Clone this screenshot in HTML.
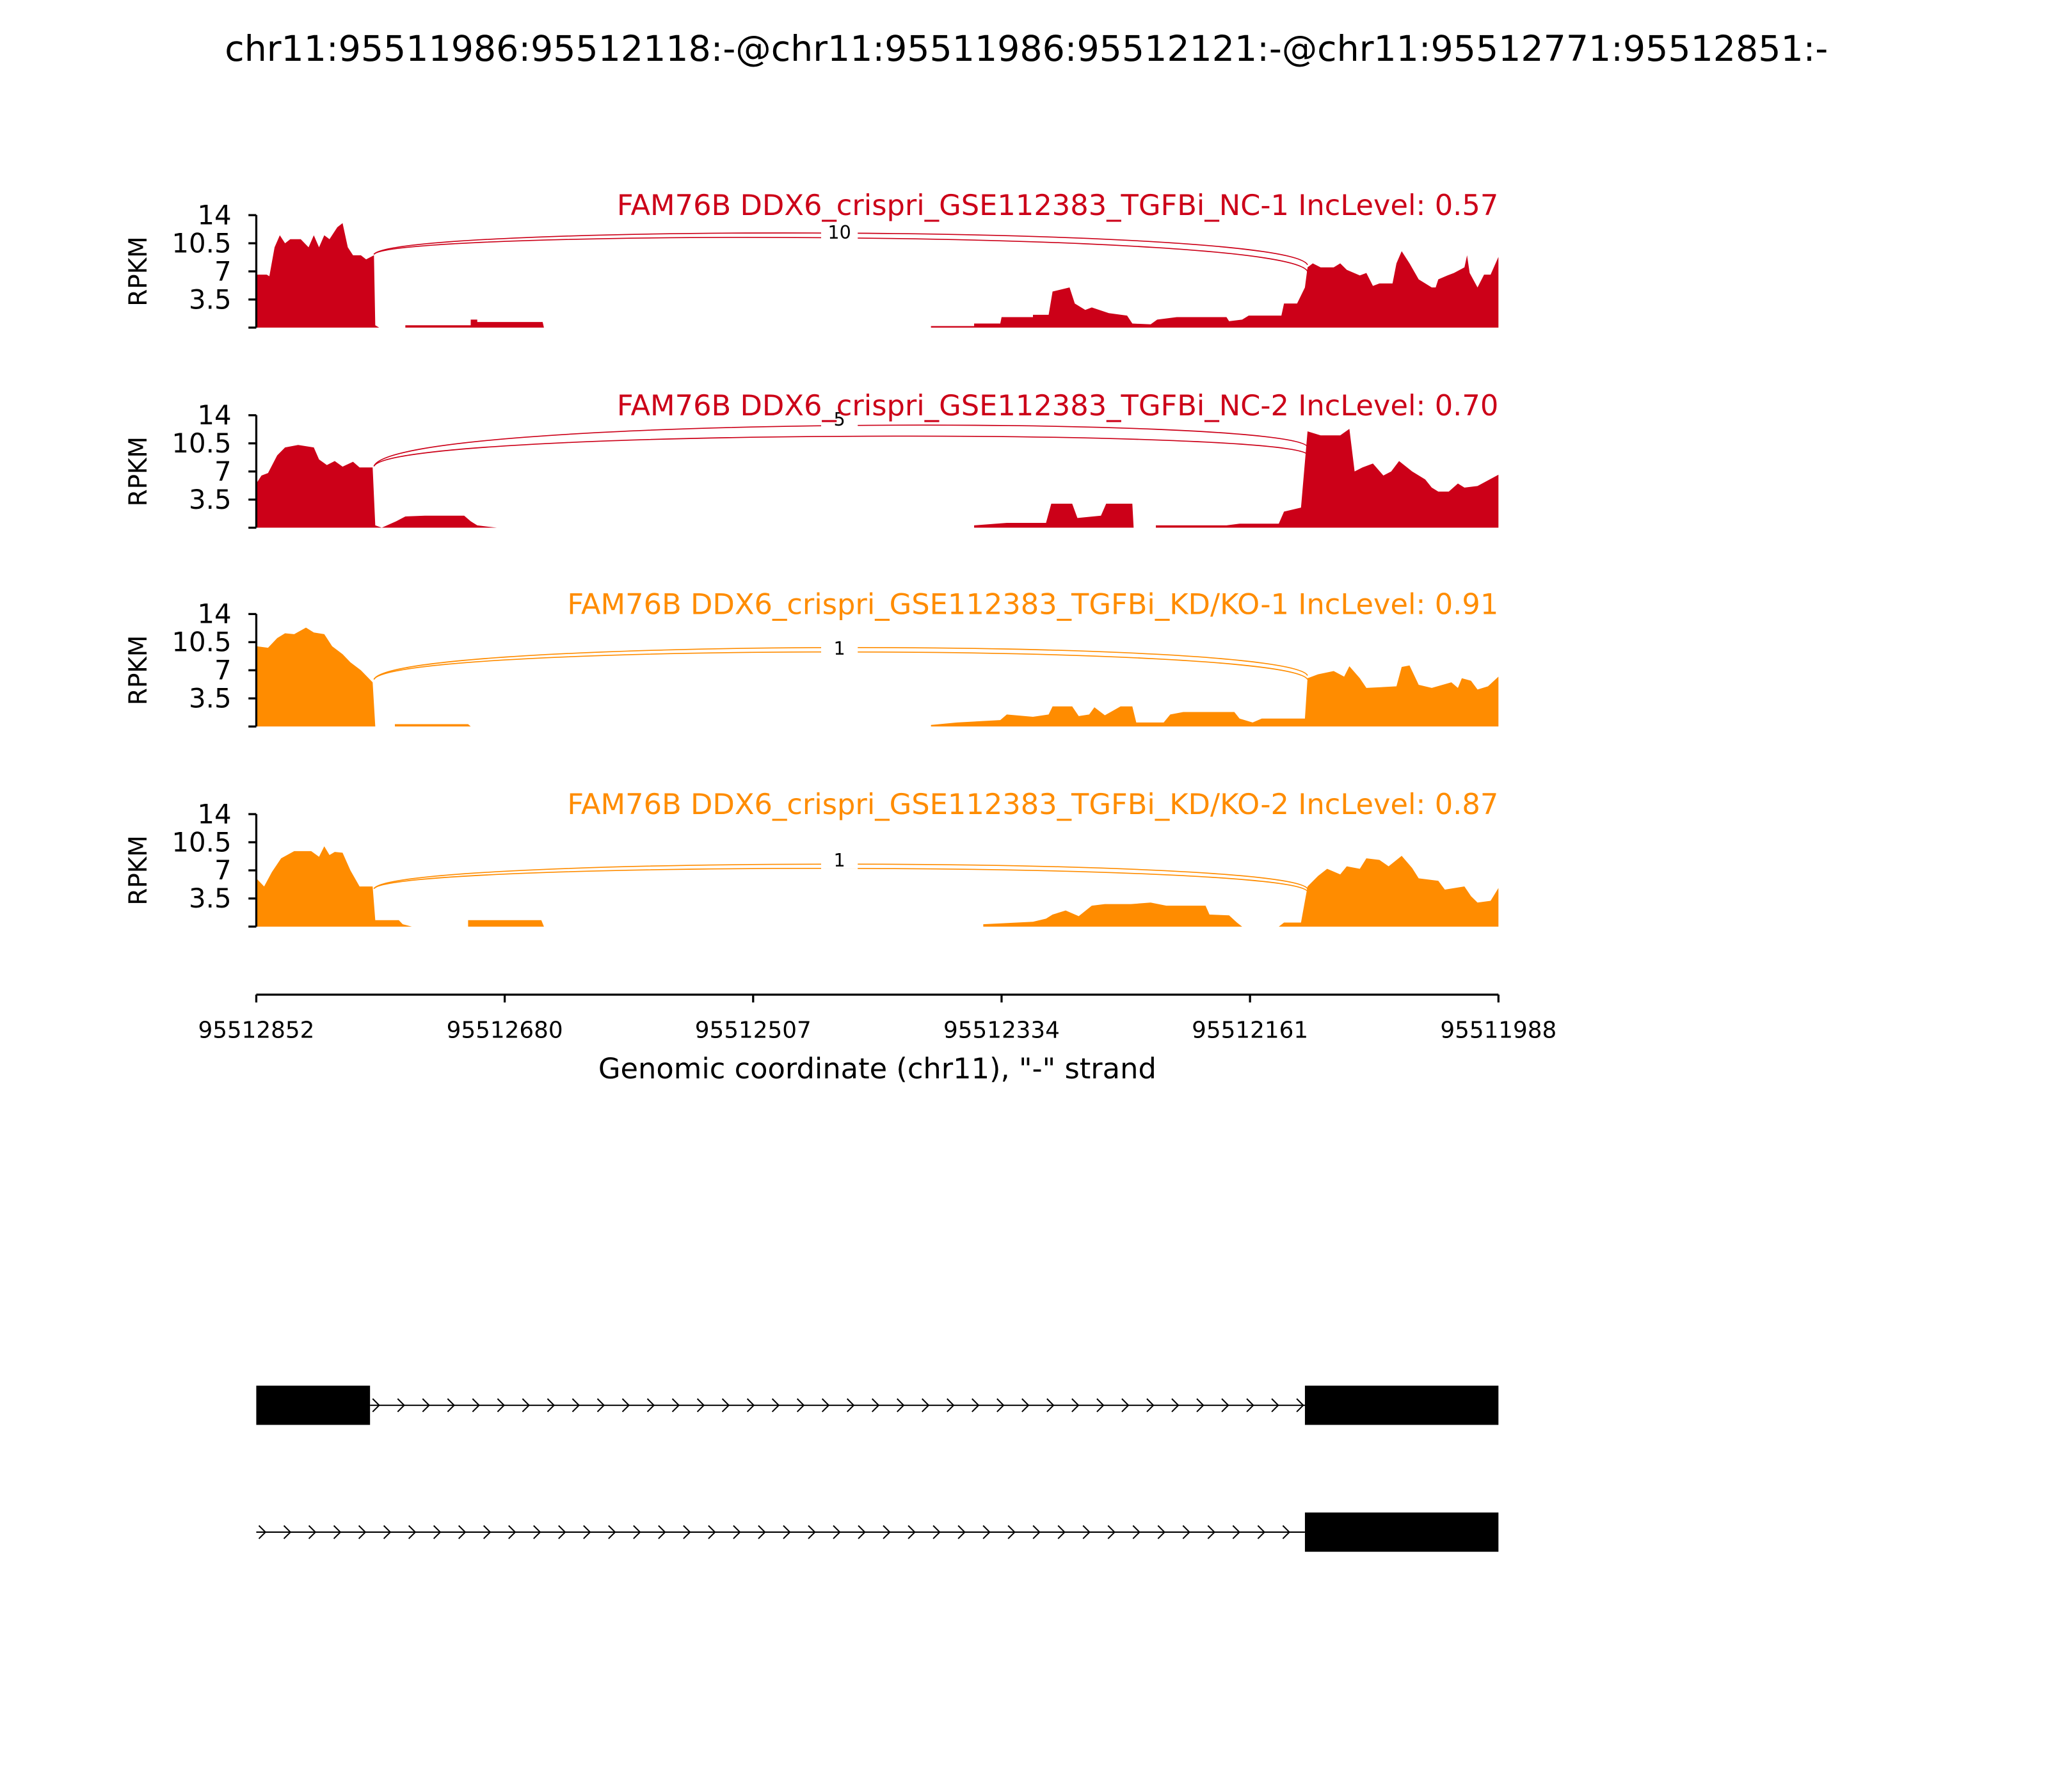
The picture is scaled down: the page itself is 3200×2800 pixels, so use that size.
<!DOCTYPE html>
<html><head><meta charset="utf-8"><style>
html,body{margin:0;padding:0;background:#fff}
svg{display:block}
text{font-family:"DejaVu Sans","Liberation Sans",sans-serif}
</style></head><body>
<svg id="s" width="3200" height="2800" viewBox="0 0.5 1566.3 1370.2" preserveAspectRatio="none" xmlns="http://www.w3.org/2000/svg">
<text x="785" y="47" font-size="27.1" text-anchor="middle">chr11:95511986:95512118:-@chr11:95511986:95512121:-@chr11:95512771:95512851:-</text>
<g id="panels"></g>
<g stroke="#000" stroke-width="1.6">
<line x1="196" y1="761" x2="1146" y2="761"/>
<line x1="196" y1="761" x2="196" y2="767"/><line x1="386" y1="761" x2="386" y2="767"/><line x1="576" y1="761" x2="576" y2="767"/><line x1="766" y1="761" x2="766" y2="767"/><line x1="956" y1="761" x2="956" y2="767"/><line x1="1146" y1="761" x2="1146" y2="767"/>
</g>
<g font-size="17.5" text-anchor="middle">
<text x="196" y="794">95512852</text><text x="386" y="794">95512680</text><text x="576" y="794">95512507</text><text x="766" y="794">95512334</text><text x="956" y="794">95512161</text><text x="1146" y="794">95511988</text>
</g>
<text x="671" y="825" font-size="21.9" text-anchor="middle">Genomic coordinate (chr11), "-" strand</text>
<rect x="196" y="1060" width="87" height="30" fill="#000"/>
<rect x="998" y="1060" width="148" height="30" fill="#000"/>
<line x1="283" y1="1075" x2="998" y2="1075" stroke="#000" stroke-width="1"/>
<rect x="998" y="1157" width="148" height="30" fill="#000"/>
<line x1="196" y1="1172" x2="998" y2="1172" stroke="#000" stroke-width="1"/>
<g id="arrows" stroke="#000" stroke-width="1" fill="none"></g>
</svg>
<script>
var P=[
{y:165,c:"#cc0018",t:"FAM76B DDX6_crispri_GSE112383_TGFBi_NC-1 IncLevel: 0.57",lab:"10",
arcs:[[195,172,203],[195,176,208]],ly:178,
d:[[196,6.6],[204,6.6],[206,6.4],[210,10],[214,11.5],[218,10.5],[222,11],[230,11],[236,10],[240,11.5],[244,10],[248,11.5],[252,11],[258,12.5],[262,13],[266,10],[270,9],[276,9],[280,8.5],[286,9],[287,0.3],[290,0],[310,0],[310,0.3],[360,0.3],[360,1],[365,1],[365,0.7],[415,0.7],[416,0],[712,0],[712,0.2],[745,0.2],[745,0.5],[765,0.5],[766,1.3],[790,1.3],[790,1.6],[802,1.6],[805,4.5],[818,5],[822,3],[830,2.2],[835,2.5],[848,1.8],[862,1.5],[866,0.5],[880,0.4],[885,1],[900,1.3],[938,1.3],[940,0.8],[950,1],[955,1.5],[980,1.5],[982,3],[992,3],[998,5],[1000,7.5],[1004,8],[1010,7.5],[1020,7.5],[1025,8],[1030,7.2],[1040,6.5],[1045,6.8],[1050,5.2],[1055,5.5],[1065,5.5],[1068,8],[1072,9.5],[1078,8],[1085,6],[1095,5],[1098,5],[1100,6],[1107,6.5],[1112,6.8],[1120,7.5],[1122,9],[1124,6.8],[1130,5],[1135,6.6],[1140,6.6],[1146,8.8]]},
{y:318,c:"#cc0018",t:"FAM76B DDX6_crispri_GSE112383_TGFBi_NC-2 IncLevel: 0.70",lab:"5",
arcs:[[357,318,342],[357,328,348]],ly:321,
d:[[196,5.5],[200,6.5],[205,6.8],[212,9],[218,10],[228,10.3],[240,10],[244,8.5],[250,7.8],[256,8.3],[262,7.6],[270,8.2],[275,7.5],[285,7.5],[287,0.3],[292,0],[303,0.8],[310,1.4],[325,1.5],[355,1.5],[360,0.8],[365,0.3],[380,0],[745,0],[745,0.3],[770,0.6],[800,0.6],[804,3],[820,3],[824,1.2],[842,1.5],[846,3],[866,3],[867,0],[884,0],[884,0.3],[938,0.3],[948,0.5],[978,0.5],[982,2],[995,2.5],[1000,12],[1010,11.5],[1025,11.5],[1032,12.3],[1036,7],[1042,7.5],[1050,8],[1058,6.5],[1064,7],[1070,8.3],[1080,7],[1090,6],[1095,5],[1100,4.5],[1108,4.5],[1115,5.5],[1120,5],[1130,5.2],[1146,6.6]]},
{y:470,c:"#ff8c00",t:"FAM76B DDX6_crispri_GSE112383_TGFBi_KD/KO-1 IncLevel: 0.91",lab:"1",
arcs:[[520,488,517],[520,492,520]],ly:496,
d:[[196,10],[205,9.8],[212,11],[218,11.6],[225,11.5],[234,12.3],[240,11.7],[248,11.5],[254,10],[262,9],[268,8],[276,7],[285,5.5],[287,0],[302,0],[302,0.3],[358,0.3],[360,0],[712,0],[712,0.2],[732,0.5],[765,0.8],[770,1.5],[790,1.2],[802,1.5],[805,2.5],[820,2.5],[825,1.3],[833,1.5],[837,2.4],[845,1.4],[857,2.5],[866,2.5],[869,0.5],[890,0.5],[895,1.5],[905,1.8],[944,1.8],[948,1],[958,0.5],[965,1],[998,1],[1000,6],[1008,6.5],[1020,6.9],[1028,6.2],[1032,7.5],[1040,6],[1045,4.8],[1068,5],[1072,7.4],[1078,7.6],[1085,5.2],[1095,4.8],[1110,5.5],[1115,4.8],[1118,6],[1125,5.7],[1130,4.6],[1138,5],[1146,6.2]]},
{y:623,c:"#ff8c00",t:"FAM76B DDX6_crispri_GSE112383_TGFBi_KD/KO-2 IncLevel: 0.87",lab:"1",
arcs:[[680,655,680],[680,659,682]],ly:658,
d:[[196,6],[202,5],[208,6.8],[215,8.5],[225,9.4],[238,9.4],[244,8.7],[248,10],[252,8.9],[256,9.3],[262,9.2],[268,7],[275,5],[285,5],[287,0.8],[305,0.8],[308,0.3],[315,0],[358,0],[358,0.8],[414,0.8],[416,0],[752,0],[752,0.3],[790,0.6],[800,1],[805,1.5],[815,2],[825,1.3],[835,2.6],[845,2.8],[865,2.8],[880,3],[892,2.6],[922,2.6],[925,1.5],[940,1.4],[946,0.5],[950,0],[978,0],[982,0.5],[995,0.5],[1000,5],[1008,6.3],[1015,7.2],[1025,6.5],[1030,7.5],[1040,7.2],[1045,8.5],[1055,8.3],[1062,7.5],[1072,8.8],[1080,7.3],[1085,6],[1100,5.7],[1105,4.6],[1120,5],[1125,3.8],[1130,3],[1140,3.2],[1146,4.8]]}
];
var g=document.getElementById("panels"),h="";
P.forEach(function(p){
 var b=p.y+86,k=86/14,s="M196 "+b;
 p.d.forEach(function(q){s+=" L"+q[0]+" "+(b-q[1]*k).toFixed(1);});
 s+=" L1146 "+b+" Z";
 h+='<path d="'+s+'" fill="'+p.c+'"/>';
 p.arcs.forEach(function(a){h+='<path d="M286 '+a[0]+' C300 '+a[1]+', 985 '+a[1]+', 1000 '+a[2]+'" fill="none" stroke="'+p.c+'" stroke-width="0.8"/>';});
 h+='<rect x="628" y="'+(p.ly-8)+'" width="28" height="15" fill="#fff"/>';
 h+='<text x="642" y="'+(p.ly+5)+'" font-size="14" text-anchor="middle">'+p.lab+'</text>';
 h+='<line x1="196" y1="'+p.y+'" x2="196" y2="'+b+'" stroke="#000" stroke-width="1.6"/>';
 [14,10.5,7,3.5,0].forEach(function(v){var yy=b-v*k;h+='<line x1="190" y1="'+yy+'" x2="196" y2="'+yy+'" stroke="#000" stroke-width="1.6"/>';
  if(v)h+='<text x="177" y="'+(yy+7)+'" font-size="20.5" text-anchor="end">'+v+'</text>';});
 h+='<text transform="translate(112 '+(p.y+43)+') rotate(-90)" font-size="19" text-anchor="middle">RPKM</text>';
 h+='<text x="1146" y="'+(p.y)+'" font-size="21.9" text-anchor="end" fill="'+p.c+'">'+p.t+'</text>';
});
g.innerHTML=h;
var a="";
function arr(x0,x1,y){for(var x=x0+5;x<x1-3;x+=19.1){a+='<path d="M'+(x-3)+' '+(y-5)+' L'+(x+2)+' '+y+' L'+(x-3)+' '+(y+5)+'"/>';}}
arr(283,998,1075);arr(196,998,1172);
document.getElementById("arrows").innerHTML=a;
</script>
</body></html>
